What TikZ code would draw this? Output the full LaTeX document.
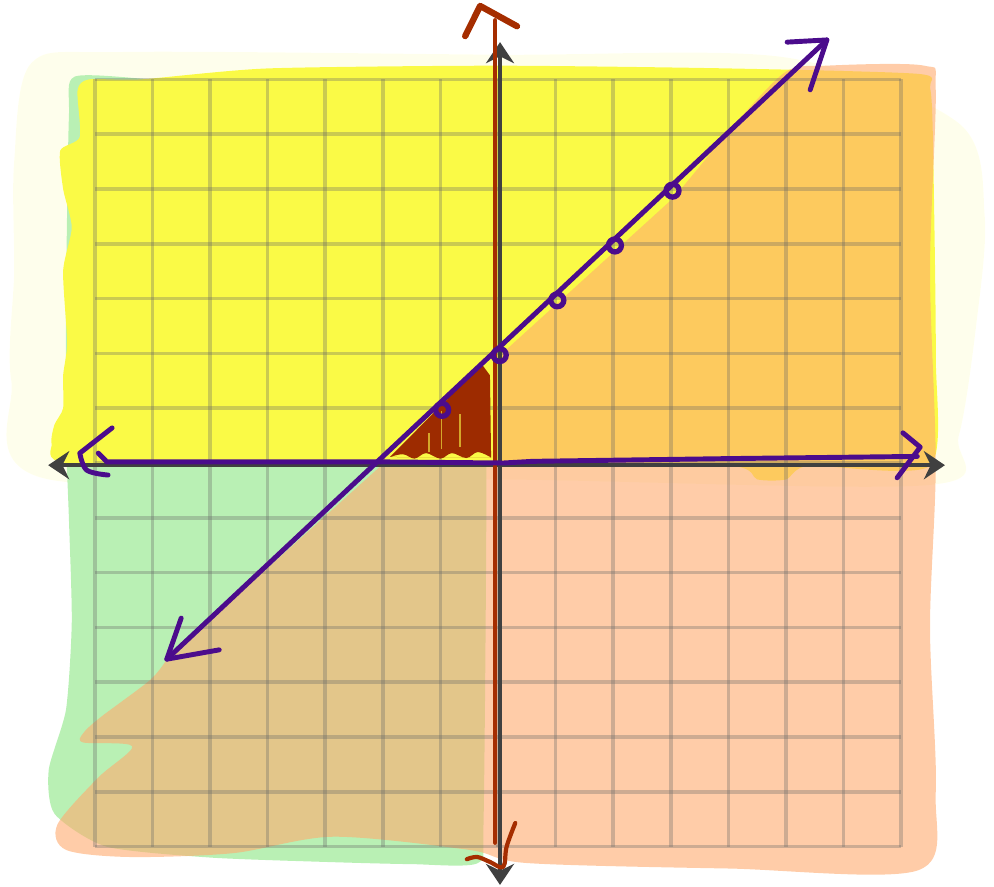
\documentclass[tikz,border=0pt]{standalone}
\usetikzlibrary{arrows.meta}
\definecolor{hlyellow}{RGB}{250,250,70}
\definecolor{hlgreen}{RGB}{185,240,180}
\definecolor{hlorange}{RGB}{255,170,110}
\definecolor{rust}{RGB}{165,45,0}
\definecolor{inkpurple}{RGB}{75,12,140}

\begin{document}
\begin{tikzpicture}[x=0.576cm, y=0.548cm,
    gridline/.style={gray!80!black, opacity=0.32, line width=1pt},
    axisline/.style={black!75, line width=1pt, {Stealth[length=6pt,width=8pt]}-{Stealth[length=6pt,width=8pt]}},
    ink/.style={inkpurple, line width=1.4pt, line cap=round, line join=round},
    redink/.style={rust, line width=1.2pt, line cap=round, line join=round},
    dot/.style={circle, draw=inkpurple, line width=1.5pt, inner sep=0pt, minimum size=1.3mm}]
  \useasboundingbox (-8.646,-7.737) rectangle (8.611,8.449);

  % Shading
  \fill[hlyellow, opacity=0.1] plot[smooth cycle, tension=0.5] coordinates {(-8.4,5.5) (-8.1,7.3) (-6.5,7.5) (0,7.45) (5,7.4) (8.0,6.2) (8.45,4.5) (8.3,2.5) (8.0,0.5) (7.5,-0.4) (0,-0.3) (-7.8,-0.3) (-8.45,1.5) (-8.4,3.5)};
  \fill[hlgreen] plot[smooth cycle, tension=0.4] coordinates {(-7.35,7.05) (-6.0,7.0) (-4.9,6.95) (-2,6.8) (-0.25,6.8) (-0.2,0) (-0.25,-6.5) (-0.35,-7.3) (-1.5,-7.32) (-3,-7.28) (-5,-7.2) (-6.8,-7.0) (-7.7,-6.4) (-7.8,-5.6) (-7.5,-4.5) (-7.4,-2.9) (-7.45,-1.0) (-7.5,0.5) (-7.5,3) (-7.45,6.3)};
  \fill[hlyellow] plot[smooth cycle, tension=0.4] coordinates {(-7.3,6.8) (-7.26,5.95) (-7.6,5.7) (-7.55,5.0) (-7.4,4.3) (-7.55,3.5) (-7.48,2.2) (-7.55,1.6) (-7.55,1.0) (-7.7,0.7) (-7.75,0.35) (-7.5,0.0) (-4,-0.05) (0,-0.05) (4.0,-0.05) (4.5,-0.3) (5.0,-0.3) (5.4,-0.05) (7.5,-0.05) (7.6,2) (7.55,5.95) (7.5,6.85) (7.3,7.1) (4,7.2) (0,7.25) (-4,7.2) (-6.2,7.0) (-7.1,7.0)};
  \fill[hlorange, opacity=0.6] plot[smooth, tension=0.5] coordinates {(3.98,6.02) (4.97,7.12) (5.7,7.25) (7.4,7.25) (7.6,6.8) (7.5,3.5) (7.6,0) (7.5,-3) (7.6,-6) (7.3,-7.43) (4,-7.4) (0.5,-7.3) (-0.5,-7.06) (-2.86,-6.82) (-4.6,-7.12) (-6.4,-7.19) (-7.5,-7.06) (-7.65,-6.6) (-6.95,-5.75) (-6.35,-5.17) (-7.2,-5.1) (-7.2,-4.93) (-6.9,-4.64) (-6.04,-3.96) (-5.75,-3.58)}
    -- (-2,-0.02) -- (0,-0.02) -- (0.02,1.95) -- (1.09,2.97) -- (3.06,4.85) -- cycle;

  % Grid
  \foreach \k in {-7,...,7} {
    \draw[gridline] (\k,-7) -- (\k,7);
    \draw[gridline] (-7,\k) -- (7,\k);
  }

  % Axes
  \draw[axisline] (-7.81,-0.04) -- (7.76,-0.04);
  \draw[axisline] (0.035,-7.70) -- (0.035,7.68);

  % Solution region
  \fill[rust!95!black] (-1.875,0.11) -- (-0.28,1.8) -- (-0.14,1.6) -- (-0.12,0.1)
    plot[smooth, tension=0.6] coordinates {(-0.12,0.1) (-0.35,0.2) (-0.55,0.09) (-0.8,0.18) (-1.0,0.08) (-1.25,0.18) (-1.45,0.08) (-1.65,0.16) (-1.875,0.11)} -- cycle;
  \draw[hlyellow, opacity=0.6, line width=0.4pt] (-0.98,0.25) -- (-0.98,0.95) (-0.66,0.3) -- (-0.66,0.9) (-1.2,0.2) -- (-1.2,0.55);

  % Red y-axis
  \draw[redink] (-0.05,8.08) -- (-0.05,-6.93);
  \draw[redink, line width=1.8pt] (-0.57,7.79) -- (-0.31,8.34) -- (0.33,7.97);
  \draw[redink] plot[smooth, tension=0.6] coordinates {(0.30,-6.57) (0.15,-7.0) (0.09,-7.37) (-0.14,-7.28) (-0.36,-7.19) (-0.54,-7.23)};

  % Purple lines
  \draw[ink] (-6.94,0.18) -- (-6.79,0.02) -- (-2,0.02) -- (0.1,0.0) -- (0.6,0.03) -- (4,0.08) -- (7.28,0.12);
  \draw[ink] (-6.70,0.64) -- (-7.26,0.18) plot[smooth, tension=0.6] coordinates {(-7.26,0.18) (-7.14,-0.13) (-6.77,-0.22)};
  \draw[ink] (7.03,0.55) -- (7.33,0.29) -- (6.93,-0.27);
  \draw[ink] (-5.75,-3.58) -- (5.71,7.72);
  \draw[ink] (-5.50,-2.83) -- (-5.75,-3.58) -- (-4.84,-3.41);
  \draw[ink] (5.02,7.68) -- (5.71,7.72) -- (5.42,6.81);

  % Points
  \foreach \x in {-1,...,3}
    \node[dot] (p\x) at (\x+0.03,\x+1.97) {};
\end{tikzpicture}
\end{document}
